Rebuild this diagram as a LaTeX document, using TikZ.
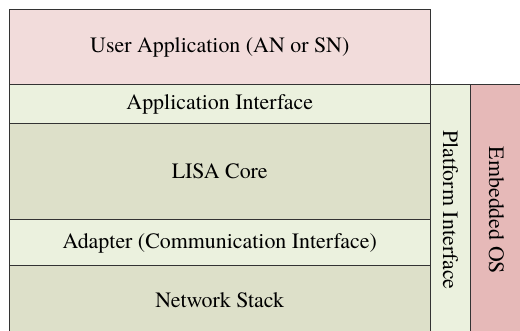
\documentclass[tikz,border=0pt]{standalone}
\usepackage{fontspec}
\newfontfamily\tnr{texgyretermes-regular.otf}
\definecolor{userpink}{HTML}{F2DCDB}
\definecolor{lightgreen}{HTML}{EBF1DE}
\definecolor{darkgreen}{HTML}{DDE0C9}
\definecolor{ospink}{HTML}{E6B9B8}
\begin{document}
\begin{tikzpicture}[x=1pt,y=-1pt,
  layer/.style={draw=black!80,line width=1pt,inner sep=0pt},
  lbl/.style={font=\tnr\fontsize{21.9}{24}\selectfont,inner sep=0pt}]
\useasboundingbox (0,0) rectangle (520,331);
\clip (0,0) rectangle (520,331);
\fill[white] (0,0) rectangle (520,331);
\draw[layer,fill=userpink] (9.5,10) rectangle (430,84.5);
\node[lbl] (user) at (219.75,47.5) {User Application (AN or SN)};
\draw[layer,fill=lightgreen] (9.5,84.5) rectangle (430,123.3);
\node[lbl] (api) at (219.75,104) {Application Interface};
\draw[layer,fill=darkgreen] (9.5,123.3) rectangle (430,220);
\node[lbl] (core) at (219.75,171.5) {LISA Core};
\draw[layer,fill=lightgreen] (9.5,220) rectangle (430,266);
\node[lbl] (adapter) at (219.75,243) {Adapter (Communication Interface)};
\draw[layer,fill=darkgreen] (9.5,266) rectangle (430,336);
\node[lbl] (net) at (219.75,300) {Network Stack};
\draw[layer,fill=lightgreen] (430,84.5) rectangle (470.5,336);
\node[lbl,rotate=-90] (plat) at (450.5,210) {Platform Interface};
\draw[layer,fill=ospink] (470.5,84.5) rectangle (525,336);
\node[lbl,rotate=-90] (os) at (496.5,210.5) {Embedded OS};
\end{tikzpicture}
\end{document}
